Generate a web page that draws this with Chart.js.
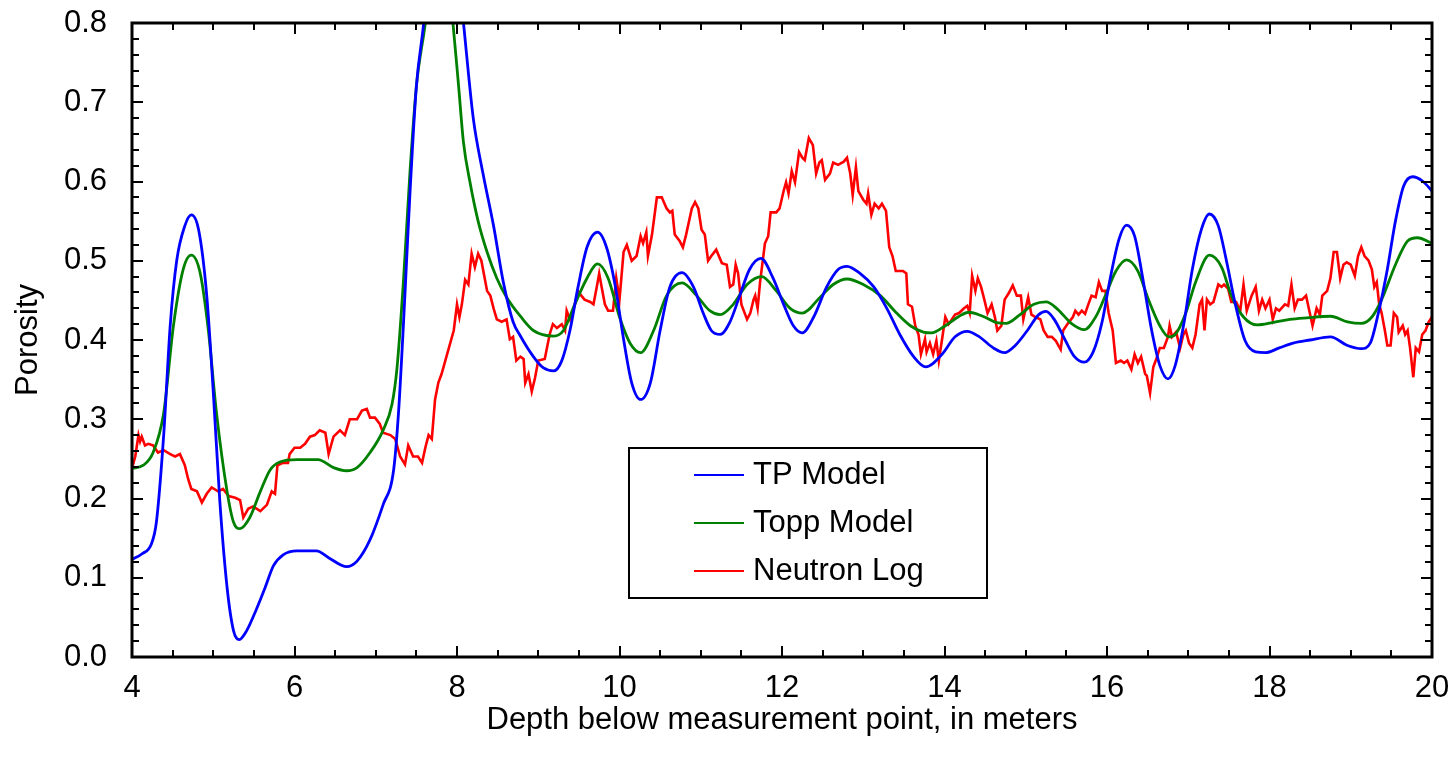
<!DOCTYPE html>
<html>
<head>
<meta charset="utf-8">
<script src="https://cdn.jsdelivr.net/npm/chart.js@4/dist/chart.umd.min.js"></script>
<style>
  html, body { margin: 0; padding: 0; background: #fff; }
  #wrap { width: 1455px; height: 768px; }
</style>
</head>
<body>
<div id="wrap"><canvas id="porosity"></canvas></div>
<script>
// depth (m) and porosity
const tpDepth = [4.0, 4.12, 4.24, 4.30, 4.39, 4.47, 4.55, 4.65, 4.73, 4.82, 4.92, 5.0, 5.08, 5.17, 5.25, 5.32, 5.41, 5.53, 5.64, 5.74, 5.86, 6.03, 6.27, 6.44, 6.64, 6.77, 6.93, 7.09, 7.22, 7.28, 7.34, 7.42, 7.50, 7.59, 7.70, 7.85, 8.0, 8.08, 8.20, 8.32, 8.45, 8.57, 8.69, 8.78, 8.94, 9.06, 9.19, 9.29, 9.39, 9.49, 9.60, 9.73, 9.84, 9.95, 10.05, 10.15, 10.26, 10.38, 10.50, 10.62, 10.77, 10.91, 11.03, 11.13, 11.24, 11.36, 11.48, 11.60, 11.74, 11.89, 12.02, 12.14, 12.25, 12.39, 12.55, 12.69, 12.80, 12.96, 13.13, 13.29, 13.45, 13.62, 13.77, 13.97, 14.13, 14.28, 14.43, 14.60, 14.74, 14.87, 15.02, 15.16, 15.25, 15.35, 15.48, 15.60, 15.72, 15.83, 15.94, 16.04, 16.15, 16.24, 16.34, 16.44, 16.55, 16.65, 16.75, 16.84, 16.95, 17.05, 17.16, 17.26, 17.37, 17.47, 17.58, 17.70, 17.83, 17.95, 18.12, 18.29, 18.50, 18.75, 18.96, 19.13, 19.24, 19.34, 19.45, 19.55, 19.65, 19.76, 19.89, 20.0];
const tpPorosity = [0.123, 0.13, 0.143, 0.17, 0.28, 0.418, 0.50, 0.544, 0.558, 0.539, 0.456, 0.335, 0.198, 0.088, 0.033, 0.022, 0.033, 0.06, 0.088, 0.115, 0.129, 0.134, 0.134, 0.124, 0.114, 0.121, 0.148, 0.192, 0.236, 0.308, 0.418, 0.583, 0.72, 0.80, 0.93, 0.98, 0.88, 0.80, 0.68, 0.61, 0.544, 0.473, 0.423, 0.405, 0.379, 0.365, 0.361, 0.374, 0.412, 0.467, 0.517, 0.536, 0.517, 0.467, 0.401, 0.346, 0.325, 0.346, 0.412, 0.467, 0.485, 0.467, 0.434, 0.412, 0.407, 0.423, 0.456, 0.489, 0.503, 0.478, 0.445, 0.418, 0.409, 0.429, 0.467, 0.489, 0.493, 0.484, 0.467, 0.44, 0.407, 0.379, 0.366, 0.382, 0.404, 0.411, 0.404, 0.39, 0.384, 0.393, 0.412, 0.432, 0.436, 0.426, 0.401, 0.379, 0.372, 0.385, 0.423, 0.478, 0.528, 0.545, 0.531, 0.478, 0.412, 0.368, 0.351, 0.368, 0.423, 0.489, 0.539, 0.559, 0.544, 0.5, 0.445, 0.399, 0.385, 0.384, 0.39, 0.396, 0.40, 0.404, 0.393, 0.389, 0.396, 0.434, 0.489, 0.55, 0.594, 0.606, 0.60, 0.588];

const toppDepth = [4.0, 4.14, 4.26, 4.39, 4.51, 4.63, 4.73, 4.84, 4.94, 5.04, 5.17, 5.25, 5.33, 5.45, 5.58, 5.70, 5.82, 6.03, 6.29, 6.48, 6.64, 6.77, 6.93, 7.09, 7.20, 7.26, 7.34, 7.42, 7.50, 7.61, 7.72, 7.82, 7.95, 8.02, 8.08, 8.16, 8.26, 8.37, 8.49, 8.61, 8.78, 8.94, 9.19, 9.31, 9.45, 9.60, 9.73, 9.86, 10.0, 10.13, 10.26, 10.42, 10.58, 10.77, 10.95, 11.11, 11.24, 11.40, 11.57, 11.75, 11.93, 12.10, 12.25, 12.47, 12.63, 12.80, 13.0, 13.21, 13.41, 13.58, 13.74, 13.84, 14.01, 14.18, 14.30, 14.47, 14.64, 14.76, 14.93, 15.10, 15.25, 15.39, 15.56, 15.72, 15.86, 15.98, 16.11, 16.24, 16.38, 16.51, 16.65, 16.76, 16.84, 16.97, 17.09, 17.26, 17.41, 17.53, 17.68, 17.85, 18.04, 18.25, 18.46, 18.75, 18.96, 19.13, 19.26, 19.38, 19.55, 19.70, 19.82, 20.0];
const toppPorosity = [0.238, 0.242, 0.258, 0.308, 0.418, 0.489, 0.507, 0.484, 0.412, 0.308, 0.209, 0.17, 0.162, 0.176, 0.209, 0.236, 0.246, 0.249, 0.249, 0.239, 0.235, 0.239, 0.258, 0.286, 0.319, 0.363, 0.473, 0.61, 0.72, 0.80, 0.90, 0.92, 0.80, 0.72, 0.649, 0.599, 0.55, 0.511, 0.478, 0.454, 0.43, 0.412, 0.405, 0.412, 0.445, 0.478, 0.496, 0.478, 0.429, 0.396, 0.384, 0.412, 0.456, 0.472, 0.456, 0.437, 0.432, 0.445, 0.47, 0.48, 0.462, 0.44, 0.434, 0.454, 0.47, 0.477, 0.47, 0.456, 0.434, 0.418, 0.41, 0.409, 0.418, 0.43, 0.435, 0.43, 0.422, 0.421, 0.432, 0.445, 0.448, 0.439, 0.421, 0.413, 0.429, 0.456, 0.487, 0.501, 0.487, 0.451, 0.418, 0.404, 0.407, 0.434, 0.473, 0.507, 0.492, 0.456, 0.429, 0.419, 0.422, 0.426, 0.428, 0.43, 0.423, 0.421, 0.429, 0.451, 0.495, 0.525, 0.529, 0.522];

const neutronDepth = [4.0, 4.04, 4.08, 4.10, 4.12, 4.16, 4.20, 4.26, 4.32, 4.39, 4.47, 4.53, 4.59, 4.65, 4.69, 4.73, 4.80, 4.86, 4.92, 4.98, 5.06, 5.12, 5.19, 5.27, 5.33, 5.37, 5.43, 5.49, 5.58, 5.66, 5.72, 5.76, 5.79, 5.86, 5.92, 5.94, 6.0, 6.07, 6.13, 6.19, 6.25, 6.31, 6.38, 6.42, 6.48, 6.56, 6.62, 6.68, 6.77, 6.83, 6.89, 6.93, 6.99, 7.05, 7.09, 7.18, 7.24, 7.30, 7.36, 7.40, 7.46, 7.52, 7.57, 7.61, 7.65, 7.69, 7.73, 7.77, 7.81, 7.87, 7.96, 8.0, 8.03, 8.06, 8.10, 8.14, 8.18, 8.22, 8.26, 8.30, 8.37, 8.41, 8.45, 8.49, 8.55, 8.61, 8.65, 8.69, 8.73, 8.78, 8.82, 8.84, 8.88, 8.92, 8.96, 9.0, 9.08, 9.14, 9.18, 9.23, 9.29, 9.33, 9.35, 9.39, 9.45, 9.49, 9.53, 9.57, 9.64, 9.68, 9.72, 9.75, 9.78, 9.82, 9.86, 9.92, 9.96, 10.0, 10.05, 10.09, 10.15, 10.21, 10.26, 10.29, 10.33, 10.35, 10.40, 10.46, 10.52, 10.58, 10.62, 10.65, 10.68, 10.74, 10.78, 10.82, 10.89, 10.93, 10.97, 11.01, 11.05, 11.09, 11.13, 11.19, 11.26, 11.32, 11.36, 11.40, 11.43, 11.46, 11.50, 11.57, 11.61, 11.65, 11.67, 11.70, 11.73, 11.79, 11.83, 11.86, 11.93, 11.97, 12.02, 12.05, 12.08, 12.12, 12.16, 12.21, 12.25, 12.28, 12.33, 12.38, 12.42, 12.46, 12.49, 12.53, 12.59, 12.63, 12.69, 12.76, 12.80, 12.84, 12.87, 12.91, 12.94, 13.0, 13.04, 13.06, 13.10, 13.14, 13.19, 13.23, 13.28, 13.32, 13.36, 13.40, 13.49, 13.53, 13.55, 13.60, 13.64, 13.68, 13.71, 13.76, 13.78, 13.82, 13.86, 13.90, 13.93, 13.97, 14.01, 14.05, 14.09, 14.13, 14.18, 14.24, 14.28, 14.31, 14.34, 14.38, 14.41, 14.45, 14.49, 14.53, 14.58, 14.62, 14.65, 14.70, 14.74, 14.79, 14.84, 14.89, 14.94, 14.97, 15.03, 15.07, 15.12, 15.18, 15.22, 15.27, 15.32, 15.37, 15.43, 15.46, 15.52, 15.58, 15.61, 15.65, 15.69, 15.73, 15.77, 15.81, 15.86, 15.90, 15.94, 15.98, 16.02, 16.07, 16.11, 16.17, 16.21, 16.25, 16.30, 16.34, 16.38, 16.42, 16.47, 16.49, 16.53, 16.57, 16.61, 16.65, 16.70, 16.75, 16.77, 16.80, 16.85, 16.90, 16.94, 16.97, 17.01, 17.05, 17.09, 17.14, 17.17, 17.20, 17.23, 17.27, 17.31, 17.37, 17.41, 17.44, 17.49, 17.53, 17.59, 17.64, 17.68, 17.72, 17.78, 17.83, 17.87, 17.91, 17.95, 18.0, 18.04, 18.08, 18.12, 18.19, 18.23, 18.27, 18.31, 18.35, 18.40, 18.45, 18.49, 18.53, 18.58, 18.62, 18.65, 18.71, 18.75, 18.79, 18.83, 18.87, 18.91, 18.95, 19.0, 19.05, 19.09, 19.13, 19.17, 19.22, 19.26, 19.29, 19.32, 19.35, 19.38, 19.42, 19.45, 19.49, 19.53, 19.57, 19.59, 19.64, 19.67, 19.70, 19.73, 19.77, 19.80, 19.84, 19.88, 19.92, 19.96, 20.0];
const neutronPorosity = [0.238, 0.253, 0.28, 0.272, 0.278, 0.267, 0.269, 0.267, 0.258, 0.261, 0.256, 0.253, 0.256, 0.242, 0.225, 0.212, 0.209, 0.195, 0.206, 0.214, 0.209, 0.212, 0.203, 0.201, 0.198, 0.176, 0.187, 0.19, 0.184, 0.192, 0.209, 0.206, 0.242, 0.245, 0.245, 0.256, 0.264, 0.264, 0.269, 0.278, 0.28, 0.286, 0.283, 0.256, 0.278, 0.286, 0.28, 0.3, 0.3, 0.311, 0.313, 0.302, 0.302, 0.294, 0.283, 0.28, 0.275, 0.253, 0.243, 0.267, 0.253, 0.253, 0.245, 0.264, 0.28, 0.275, 0.325, 0.346, 0.357, 0.379, 0.412, 0.445, 0.429, 0.445, 0.476, 0.47, 0.509, 0.492, 0.509, 0.5, 0.462, 0.456, 0.44, 0.426, 0.423, 0.426, 0.401, 0.404, 0.374, 0.379, 0.376, 0.346, 0.357, 0.335, 0.352, 0.374, 0.376, 0.407, 0.42, 0.415, 0.42, 0.412, 0.437, 0.426, 0.445, 0.462, 0.456, 0.451, 0.448, 0.445, 0.467, 0.484, 0.467, 0.445, 0.437, 0.437, 0.478, 0.451, 0.511, 0.52, 0.5, 0.506, 0.531, 0.522, 0.536, 0.506, 0.533, 0.58, 0.58, 0.566, 0.561, 0.563, 0.533, 0.525, 0.517, 0.533, 0.566, 0.574, 0.566, 0.539, 0.533, 0.5, 0.506, 0.514, 0.497, 0.495, 0.467, 0.47, 0.495, 0.484, 0.445, 0.426, 0.434, 0.451, 0.456, 0.44, 0.473, 0.522, 0.531, 0.561, 0.561, 0.566, 0.588, 0.599, 0.585, 0.613, 0.599, 0.637, 0.63, 0.627, 0.655, 0.646, 0.61, 0.624, 0.627, 0.602, 0.61, 0.624, 0.621, 0.625, 0.63, 0.61, 0.583, 0.618, 0.588, 0.577, 0.572, 0.585, 0.558, 0.572, 0.566, 0.572, 0.563, 0.517, 0.506, 0.487, 0.487, 0.484, 0.445, 0.442, 0.418, 0.407, 0.382, 0.401, 0.385, 0.396, 0.382, 0.399, 0.374, 0.401, 0.429, 0.42, 0.426, 0.432, 0.434, 0.44, 0.443, 0.434, 0.481, 0.462, 0.478, 0.467, 0.451, 0.434, 0.445, 0.429, 0.412, 0.418, 0.451, 0.459, 0.469, 0.456, 0.456, 0.426, 0.454, 0.432, 0.429, 0.426, 0.412, 0.404, 0.404, 0.399, 0.388, 0.412, 0.421, 0.429, 0.437, 0.432, 0.437, 0.433, 0.445, 0.456, 0.454, 0.473, 0.462, 0.462, 0.434, 0.412, 0.371, 0.374, 0.371, 0.374, 0.363, 0.382, 0.371, 0.379, 0.357, 0.355, 0.333, 0.366, 0.377, 0.39, 0.39, 0.404, 0.418, 0.404, 0.41, 0.39, 0.407, 0.412, 0.396, 0.39, 0.407, 0.445, 0.451, 0.412, 0.451, 0.445, 0.448, 0.47, 0.467, 0.47, 0.465, 0.448, 0.448, 0.437, 0.47, 0.437, 0.456, 0.467, 0.437, 0.451, 0.44, 0.451, 0.426, 0.44, 0.437, 0.445, 0.443, 0.47, 0.44, 0.451, 0.451, 0.456, 0.437, 0.418, 0.44, 0.432, 0.456, 0.462, 0.478, 0.511, 0.511, 0.478, 0.495, 0.498, 0.495, 0.481, 0.506, 0.517, 0.506, 0.5, 0.489, 0.467, 0.473, 0.445, 0.434, 0.412, 0.393, 0.393, 0.434, 0.429, 0.41, 0.418, 0.407, 0.412, 0.39, 0.353, 0.39, 0.385, 0.407, 0.412, 0.423, 0.429];

const xTickLabels = [4, 6, 8, 10, 12, 14, 16, 18, 20];
const yTickLabels = [0.0, 0.1, 0.2, 0.3, 0.4, 0.5, 0.6, 0.7, 0.8];

const FONT = "'Liberation Sans', Arial, sans-serif";

function pts(xs, ys) {
    return xs.map((x, i) => ({ x: x, y: ys[i] }));
}

// frame + inward ticks on all four sides
const frameTicks = {
    id: 'frameTicks',
    afterDatasetsDraw(chart) {
        const ctx = chart.ctx;
        const { left, right, top, bottom } = chart.chartArea;
        const xs = chart.scales.x;
        const ys = chart.scales.y;
        ctx.save();
        ctx.strokeStyle = '#000';
        ctx.lineWidth = 2;
        ctx.beginPath();
        for (let i = 0; i <= 32; i++) {
            const d = xs.min + i * 0.5;
            const px = Math.round(xs.getPixelForValue(d));
            const len = xTickLabels.includes(d) ? 11 : 7;
            ctx.moveTo(px, bottom); ctx.lineTo(px, bottom - len);
            ctx.moveTo(px, top); ctx.lineTo(px, top + len);
        }
        for (let i = 0; i <= 40; i++) {
            const v = i * 0.02;
            const py = Math.round(ys.getPixelForValue(v));
            const len = i % 5 === 0 ? 11 : 7;
            ctx.moveTo(left, py); ctx.lineTo(left + len, py);
            ctx.moveTo(right, py); ctx.lineTo(right - len, py);
        }
        ctx.stroke();
        ctx.lineWidth = 3;
        ctx.strokeRect(left, top, right - left, bottom - top);
        ctx.restore();
    }
};

// boxed legend inside the plot
const boxLegend = {
    id: 'boxLegend',
    afterDraw(chart) {
        const ctx = chart.ctx;
        const { left, top } = chart.chartArea;
        const bx = left + 497, by = top + 425, bw = 358, bh = 150;
        ctx.save();
        ctx.fillStyle = '#fff';
        ctx.fillRect(bx, by, bw, bh);
        ctx.strokeStyle = '#000';
        ctx.lineWidth = 2;
        ctx.strokeRect(bx, by, bw, bh);
        ctx.font = '31px ' + FONT;
        ctx.textBaseline = 'middle';
        ctx.textAlign = 'left';
        chart.data.datasets.forEach((ds, i) => {
            const y = by + 27 + i * 48;
            ctx.strokeStyle = ds.borderColor;
            ctx.lineWidth = 2;
            ctx.beginPath();
            ctx.moveTo(bx + 65, y);
            ctx.lineTo(bx + 115, y);
            ctx.stroke();
            ctx.fillStyle = '#000';
            ctx.fillText(ds.label, bx + 124, y);
        });
        ctx.restore();
    }
};

new Chart(
    document.getElementById('porosity'),
    {
        type: 'line',
        data: {
            datasets: [
                {
                    label: 'TP Model',
                    data: pts(tpDepth, tpPorosity),
                    borderColor: '#0000ff',
                    borderWidth: 2.8,
                    pointRadius: 0,
                    cubicInterpolationMode: 'monotone',
                    clip: 0
                },
                {
                    label: 'Topp Model',
                    data: pts(toppDepth, toppPorosity),
                    borderColor: '#008000',
                    borderWidth: 2.8,
                    pointRadius: 0,
                    cubicInterpolationMode: 'monotone',
                    clip: 0
                },
                {
                    label: 'Neutron Log',
                    data: pts(neutronDepth, neutronPorosity),
                    borderColor: '#ff0000',
                    borderWidth: 2.6,
                    pointRadius: 0,
                    tension: 0,
                    clip: 0
                }
            ]
        },
        options: {
            responsive: true,
            maintainAspectRatio: false,
            animation: false,
            layout: {
                padding: { top: 23, right: 23, left: 0, bottom: 0 }
            },
            plugins: {
                legend: { display: false },
                tooltip: { enabled: false }
            },
            scales: {
                x: {
                    type: 'linear',
                    min: 4,
                    max: 20,
                    afterBuildTicks: (s) => { s.ticks = xTickLabels.map(v => ({ value: v })); },
                    afterFit: (s) => { s.height = 111; s.paddingLeft = 0; s.paddingRight = 0; },
                    grid: { display: false, drawTicks: false },
                    border: { display: false },
                    ticks: {
                        color: '#000',
                        padding: 13,
                        maxRotation: 0,
                        font: { family: FONT, size: 31 }
                    },
                    title: {
                        display: true,
                        text: 'Depth below measurement point, in meters',
                        color: '#000',
                        font: { family: FONT, size: 31 },
                        padding: { top: 0, bottom: 29 }
                    }
                },
                y: {
                    type: 'linear',
                    min: 0,
                    max: 0.8,
                    afterBuildTicks: (s) => { s.ticks = yTickLabels.map(v => ({ value: v })); },
                    afterFit: (s) => { s.width = 132; s.paddingTop = 0; s.paddingBottom = 0; },
                    grid: { display: false, drawTicks: false },
                    border: { display: false },
                    ticks: {
                        color: '#000',
                        padding: 25,
                        font: { family: FONT, size: 31 },
                        callback: (v) => Number(v).toFixed(1)
                    },
                    title: {
                        display: true,
                        text: 'Porosity',
                        color: '#000',
                        font: { family: FONT, size: 31 },
                        padding: { top: 10, bottom: 0 }
                    }
                }
            }
        },
        plugins: [frameTicks, boxLegend]
    }
);
</script>
</body>
</html>
